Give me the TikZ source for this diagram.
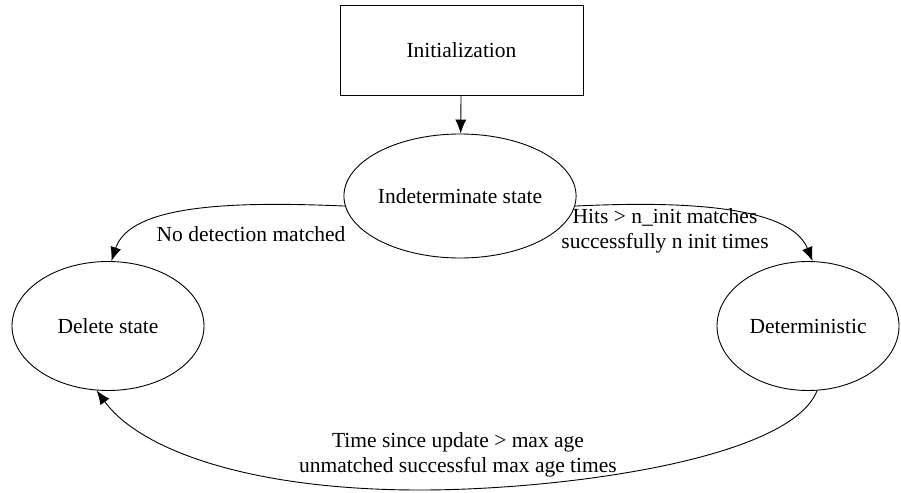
\documentclass[tikz,border=0pt]{standalone}
\usepackage{fontspec}
\setmainfont{Liberation Serif}
\usetikzlibrary{shapes.geometric,arrows.meta}
\begin{document}
\begin{tikzpicture}[x=1pt,y=-1pt,
  every node/.style={font=\fontsize{21.5}{24.5}\selectfont},
  statebox/.style={draw,line width=0.9pt,minimum width=243pt,minimum height=90pt},
  stateell/.style={draw,ellipse,line width=0.9pt,inner sep=0pt},
  conn/.style={line width=0.9pt,-{Latex[length=14pt,width=11pt]}},
  lbl/.style={align=center}]
\useasboundingbox (0,0) rectangle (901,492);
\node[statebox] (init) at (461.5,50) {Initialization};
\node[stateell,minimum width=194pt,minimum height=124pt] (ind) at (460,196) {Indeterminate state};
\node[stateell,minimum width=192pt,minimum height=129pt] (del) at (108,326) {Delete state};
\node[stateell,minimum width=182pt,minimum height=129pt] (det) at (808,326) {Deterministic};
\draw[conn] (init) -- (ind);
\draw[conn] (ind.185) .. controls (230,201) and (130,205) .. (del.87);
\draw[conn] (ind.-5) .. controls (680,201) and (790,205) .. (det.86);
\draw[conn] (det.-82) .. controls (790,460) and (560,490) .. (420,490)
  .. controls (250,490) and (140,450) .. (del.-100);
\node[lbl] (l1) at (251,234) {No detection matched};
\node[lbl] (l2) at (665,231) {Hits > n\_init matches\\successfully n init times};
\node[lbl] (l3) at (458,455) {Time since update > max age\\unmatched successful max age times};
\end{tikzpicture}
\end{document}
